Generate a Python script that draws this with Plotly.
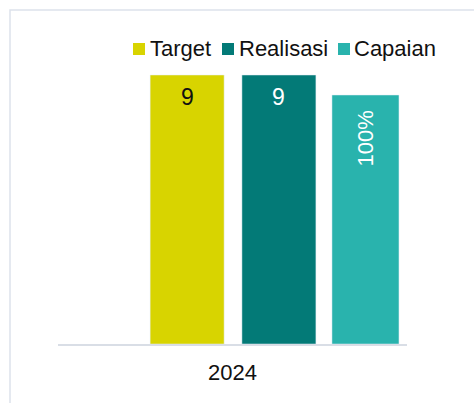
import plotly.graph_objects as go

# Data
years = ["2024"]
series_names = ["Target", "Realisasi", "Capaian"]
target = [9]
realisasi = [9]
capaian = [1.0]  # fraction, shown as a percentage on the secondary axis

colors = ["#D8D400", "#037A77", "#29B3AD"]
label_colors = ["#111111", "#FFFFFF", "#FFFFFF"]

FONT = "Arial, Liberation Sans, sans-serif"
W, H = 474, 403
L, R, T, B = 58, 67, 60, 59
plot_w = W - L - R
plot_h = H - T - B


def px_x(px):
    return (px - L) / plot_w


def px_y(py):
    return (H - B - py) / plot_h


# bar placement within the single category (category units)
bar_specs = [
    dict(values=target, offset=-0.236, width=0.212, axis="y", fmt="{:g}", angle=0, shift=-7, size=23),
    dict(values=realisasi, offset=0.027, width=0.212, axis="y", fmt="{:g}", angle=0, shift=-7, size=23),
    dict(values=capaian, offset=0.285, width=0.192, axis="y2", fmt="{:.0%}", angle=-90, shift=-13, size=22),
]

fig = go.Figure()
annotations = []

for i, (spec, name, col) in enumerate(zip(bar_specs, series_names, colors)):
    fig.add_trace(go.Bar(
        x=years, y=spec["values"], name=name,
        marker_color=col, offset=spec["offset"], width=spec["width"],
        yaxis=spec["axis"],
    ))
    # value labels just inside the top of each bar
    for j, v in enumerate(spec["values"]):
        annotations.append(dict(
            x=j + spec["offset"] + spec["width"] / 2, y=v,
            xref="x", yref=spec["axis"],
            xanchor="center", yanchor="top", yshift=spec["shift"],
            textangle=spec["angle"], showarrow=False,
            text=spec["fmt"].format(v),
            font=dict(size=spec["size"], color=label_colors[i], family=FONT),
        ))

# Legend drawn as swatches + labels in one row above the bars
legend_items = [(133, 150), (222, 239), (338, 354)]
shapes = []
for (sq_x, tx_x), name, col in zip(legend_items, series_names, colors):
    shapes.append(dict(
        type="rect", xref="paper", yref="paper",
        x0=px_x(sq_x), x1=px_x(sq_x + 12), y0=px_y(55), y1=px_y(43),
        fillcolor=col, line=dict(width=0),
    ))
    annotations.append(dict(
        xref="paper", yref="paper", x=px_x(tx_x - 2), y=px_y(48),
        xanchor="left", yanchor="middle", showarrow=False,
        text=name, font=dict(size=22, color="#111111", family=FONT),
    ))

# Chart frame
shapes.append(dict(
    type="rect", xref="paper", yref="paper",
    x0=px_x(10), x1=px_x(W + 20), y0=px_y(H + 20), y1=px_y(10),
    line=dict(color="#DDE2EB", width=1.5), fillcolor="rgba(0,0,0,0)",
    layer="below",
))

fig.update_layout(
    width=W, height=H,
    margin=dict(l=L, r=R, t=T, b=B, pad=0),
    paper_bgcolor="white", plot_bgcolor="white",
    barmode="overlay", showlegend=False,
    font=dict(family=FONT, size=22, color="#111111"),
    xaxis=dict(
        type="category", range=[-0.5, 0.5],
        showline=True, linecolor="#D9DEE6", linewidth=2,
        ticks="", showgrid=False, zeroline=False,
        tickfont=dict(size=22, color="#111111", family=FONT),
        ticklabelstandoff=8,
    ),
    yaxis=dict(range=[0, 9 * plot_h / 269], visible=False, showgrid=False),
    yaxis2=dict(range=[0, 1.0 * plot_h / 249], visible=False, showgrid=False,
                overlaying="y", side="right"),
    shapes=shapes, annotations=annotations,
)

fig.write_html("out.html")
